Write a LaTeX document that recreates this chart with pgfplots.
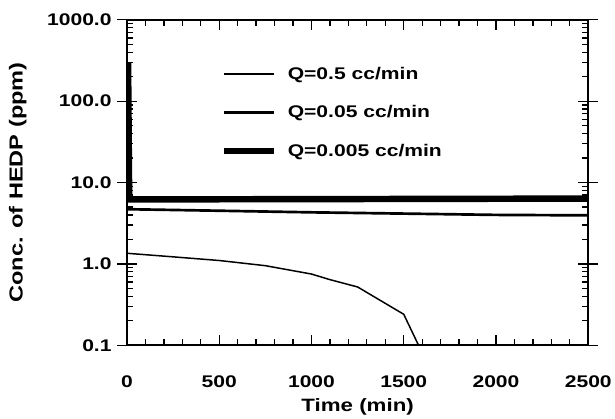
\documentclass[border=0pt]{standalone}
\usepackage{fontspec}
\setmainfont{Liberation Sans}
\newfontfamily\wf[FakeStretch=1.25]{Liberation Sans}
\usepackage{pgfplots}
\pgfplotsset{compat=1.18}
\begin{document}
\begin{tikzpicture}
\begin{axis}[
  name=ax,
  scale only axis, width=465bp, height=328bp,
  ymode=log, xmin=0, xmax=2500, ymin=0.1, ymax=1000,
  xtick={0,500,1000,1500,2000,2500},
  xticklabels={0,500,1000,1500,2000,2500},
  minor xtick={100,200,300,400,600,700,800,900,1100,1200,1300,1400,1600,1700,1800,1900,2100,2200,2300,2400},
  xmajorgrids, xminorgrids,
  major grid style={draw=black, line width=1.3bp, dash pattern=on 10bp off 308bp},
  minor grid style={draw=black, line width=1.1bp, dash pattern=on 5bp off 318bp},
  ytick={0.1,1,10,100,1000},
  yticklabels={0.1,1.0,10.0,100.0,1000.0},
  extra y ticks={0.1,1,10,100,1000},
  extra y tick labels={},
  extra y tick style={tick align=outside},
  tick align=inside,
  xtick pos=both, ytick pos=both,
  /pgf/number format/assume math mode=true,
  tick label style={font=\fontsize{17bp}{20bp}\selectfont\wf\bfseries},
  yticklabel style={xshift=-12bp},
  xticklabel style={yshift=-27bp},
  xlabel style={font=\fontsize{18bp}{21bp}\selectfont\wf\bfseries, yshift=-4bp},
  ylabel style={font=\fontsize{19bp}{22bp}\selectfont\wf\bfseries, yshift=4bp},
  xlabel={Time (min)}, ylabel={Conc. of HEDP (ppm)},
  axis line style={line width=1.6bp},
  every tick/.style={draw=black, line width=1.3bp},
  major tick length=10bp, minor tick length=6bp,
  legend style={draw=none, fill=none, inner sep=0pt, at={(0.203,0.862)}, anchor=north west,
    font=\fontsize{17bp}{20bp}\selectfont\wf\bfseries, row sep=21bp,
    nodes={inner xsep=11bp}},
  legend cell align=left,
  legend image code/.code={\draw[#1] (0bp,0bp) -- (50bp,0bp);},
]
\addplot[black, line width=1.5bp] coordinates {
  (0,1.35) (250,1.22) (500,1.1) (750,0.95) (1000,0.75) (1100,0.64) (1250,0.52) (1500,0.24) (1580,0.1)
};
\addlegendentry{Q=0.5 cc/min}
\addplot[black, line width=2.7bp] coordinates {
  (0,4.7) (500,4.5) (1000,4.3) (1500,4.15) (2000,4.0) (2500,3.95)
};
\addlegendentry{Q=0.05 cc/min}
\addplot[black, line width=6.5bp] coordinates {
  (6,300) (12,6.2) (1000,6.25) (2500,6.35)
};
\addlegendentry{Q=0.005 cc/min}
\end{axis}
\path ([shift={(-128bp,-72bp)}]ax.south west) rectangle ([shift={(22bp,20bp)}]ax.north east);
\end{tikzpicture}
\end{document}
